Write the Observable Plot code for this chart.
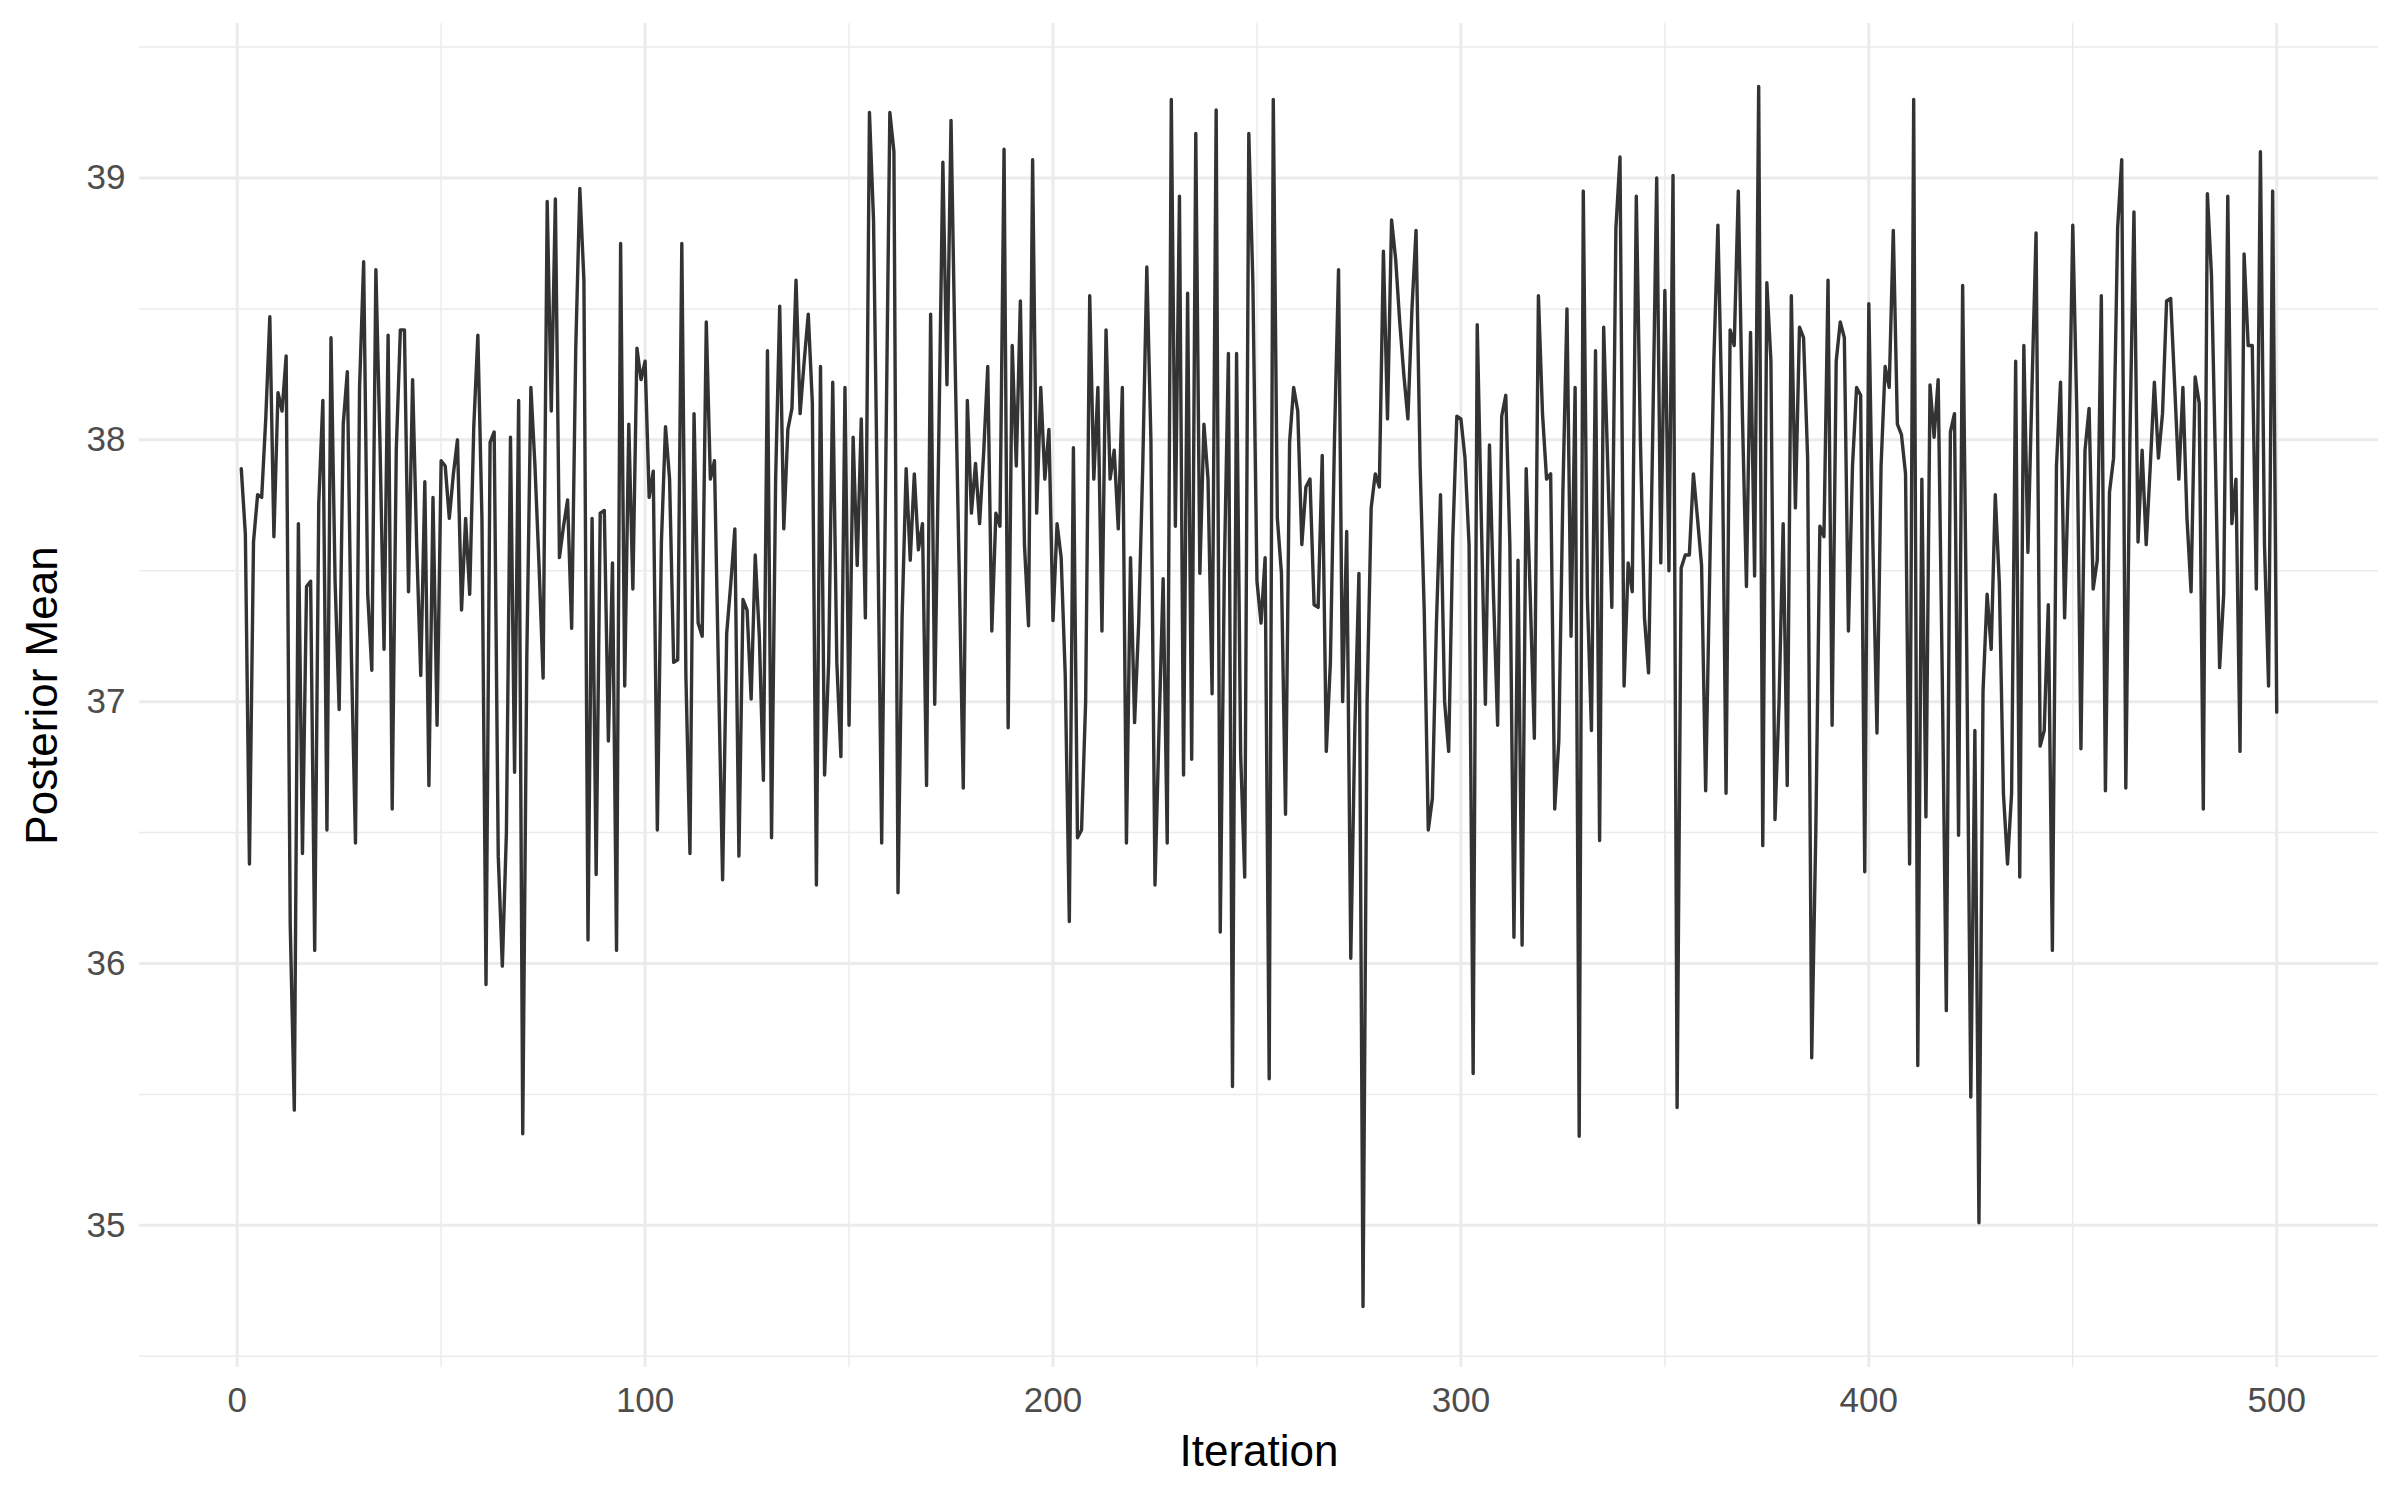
<!DOCTYPE html>
<html>
<head>
<meta charset="utf-8">
<script src="https://cdn.jsdelivr.net/npm/d3@7"></script>
<script src="https://cdn.jsdelivr.net/npm/@observablehq/plot@0.6"></script>
<style>
  html, body { margin: 0; padding: 0; background: #ffffff; }
  #chart { width: 2400px; height: 1500px; }
</style>
</head>
<body>
<div id="chart"></div>
<script>
// Posterior mean trace values, iterations 1..500
const posteriorMean = [
37.89,37.64,36.38,37.61,37.79,37.78,38.08,38.47,37.63,38.18,
38.11,38.32,36.15,35.44,37.68,36.42,37.44,37.46,36.05,37.76,
38.15,36.51,38.39,37.46,36.97,38.06,38.26,37.17,36.46,38.20,
38.68,37.41,37.12,38.65,37.99,37.20,38.40,36.59,37.96,38.42,
38.42,37.42,38.23,37.60,37.10,37.84,36.68,37.78,36.91,37.92,
37.90,37.70,37.87,38.00,37.35,37.70,37.41,38.05,38.40,37.70,
35.92,37.99,38.03,36.41,35.99,36.50,38.01,36.73,38.15,35.35,
37.17,38.20,37.90,37.52,37.09,38.91,38.11,38.92,37.55,37.67,
37.77,37.28,38.35,38.96,38.61,36.09,37.70,36.34,37.72,37.73,
36.85,37.53,36.05,38.75,37.06,38.06,37.43,38.35,38.23,38.30,
37.78,37.88,36.51,37.61,38.05,37.85,37.15,37.16,38.75,37.10,
36.42,38.10,37.30,37.25,38.45,37.85,37.92,37.10,36.32,37.26,
37.45,37.66,36.41,37.39,37.35,37.01,37.56,37.25,36.70,38.34,
36.48,37.85,38.51,37.66,38.04,38.12,38.61,38.10,38.30,38.48,
38.14,36.30,38.28,36.72,37.15,38.22,37.15,36.79,38.20,36.91,
38.01,37.52,38.08,37.32,39.25,38.84,37.70,36.46,37.90,39.25,
39.10,36.27,37.32,37.89,37.54,37.87,37.58,37.68,36.68,38.48,
36.99,38.00,39.06,38.21,39.22,38.30,37.50,36.67,38.15,37.72,
37.91,37.68,37.95,38.28,37.27,37.72,37.67,39.11,36.90,38.36,
37.90,38.53,37.60,37.29,39.07,37.72,38.20,37.85,38.04,37.31,
37.68,37.55,37.10,36.16,37.97,36.48,36.51,37.00,38.55,37.85,
38.20,37.27,38.42,37.85,37.96,37.66,38.20,36.46,37.55,36.92,
37.30,37.90,38.66,38.00,36.30,36.90,37.47,36.46,39.30,37.67,
38.93,36.72,38.56,36.78,39.17,37.49,38.06,37.85,37.03,39.26,
36.12,37.50,38.33,35.53,38.33,36.80,36.33,39.17,38.60,37.46,
37.30,37.55,35.56,39.30,37.70,37.49,36.57,37.99,38.20,38.11,
37.60,37.82,37.85,37.37,37.36,37.94,36.81,37.15,38.00,38.65,
37.00,37.65,36.02,36.90,37.49,34.69,37.00,37.74,37.87,37.82,
38.72,38.08,38.84,38.69,38.45,38.25,38.08,38.50,38.80,37.90,
37.35,36.51,36.63,37.30,37.79,37.00,36.81,37.62,38.09,38.08,
37.93,37.60,35.58,38.44,37.70,36.99,37.98,37.40,36.91,38.09,
38.17,37.60,36.10,37.54,36.07,37.89,37.40,36.86,38.55,38.10,
37.85,37.87,36.59,36.85,37.80,38.50,37.25,38.20,35.34,38.95,
37.40,36.89,38.34,36.47,38.43,37.90,37.36,38.81,39.08,37.06,
37.53,37.42,38.93,38.00,37.32,37.11,38.00,39.00,37.53,38.57,
37.50,39.01,35.45,37.51,37.56,37.56,37.87,37.70,37.52,36.66,
37.50,38.30,38.82,38.10,36.65,38.42,38.36,38.95,38.10,37.44,
38.41,37.48,39.35,36.45,38.60,38.30,36.55,37.00,37.68,36.68,
38.55,37.74,38.43,38.39,37.93,35.64,36.50,37.67,37.63,38.61,
36.91,38.30,38.45,38.39,37.27,37.90,38.20,38.17,36.35,38.52,
37.60,36.88,37.90,38.28,38.20,38.80,38.06,38.02,37.87,36.38,
39.30,35.61,37.85,36.56,38.21,38.01,38.23,37.10,35.82,38.03,
38.10,36.49,38.59,37.20,35.49,36.89,35.01,37.04,37.41,37.20,
37.79,37.45,36.65,36.38,36.65,38.30,36.33,38.36,37.57,38.20,
38.79,36.83,36.89,37.37,36.05,37.90,38.22,37.32,37.90,38.82,
38.10,36.82,37.96,38.12,37.43,37.54,38.55,36.66,37.80,37.93,
38.81,39.07,36.67,38.00,38.87,37.61,37.96,37.60,37.90,38.22,
37.93,38.10,38.53,38.54,38.20,37.85,38.20,37.70,37.42,38.24,
38.14,36.59,38.94,38.63,37.90,37.13,37.41,38.93,37.68,37.85,
36.81,38.71,38.36,38.36,37.43,39.10,37.60,37.06,38.95,36.96
];
const iterations = posteriorMean.map((_, i) => i + 1);

const xMajorTicks = [0, 100, 200, 300, 400, 500];
const xMinorTicks = [50, 150, 250, 350, 450];
const yMajorTicks = [35, 36, 37, 38, 39];
const yMinorTicks = [34.5, 35.5, 36.5, 37.5, 38.5, 39.5];

const xTitle = "Iteration";
const yTitle = "Posterior Mean";

const traceData = iterations.map((it, i) => ({iteration: it, value: posteriorMean[i]}));

const font = "'Liberation Sans', Arial, Helvetica, sans-serif";

const chart = Plot.plot({
  width: 2400,
  height: 1500,
  marginTop: 23,
  marginBottom: 133,
  marginLeft: 139,
  marginRight: 22,
  style: {fontFamily: font, background: "#ffffff"},
  x: {domain: [-23.95, 524.95]},
  y: {domain: [34.457, 39.59]},
  marks: [
    Plot.ruleY(yMinorTicks, {y: d => d, stroke: "#ebebeb", strokeWidth: 1.5}),
    Plot.ruleX(xMinorTicks, {x: d => d, stroke: "#ebebeb", strokeWidth: 1.5}),
    Plot.ruleY(yMajorTicks, {y: d => d, stroke: "#ebebeb", strokeWidth: 3}),
    Plot.ruleX(xMajorTicks, {x: d => d, stroke: "#ebebeb", strokeWidth: 3}),
    Plot.line(traceData, {x: "iteration", y: "value", stroke: "#333333", strokeWidth: 3.4, strokeLinejoin: "round"}),
    Plot.axisX(xMajorTicks, {tickSize: 0, tickPadding: 20, fontSize: 35, fill: "#4d4d4d", label: null, tickFormat: d => String(d)}),
    Plot.axisY(yMajorTicks, {tickSize: 0, tickPadding: 14, fontSize: 35, fill: "#4d4d4d", label: null, tickFormat: d => String(d)}),
    Plot.axisX([], {tickSize: 0, fontSize: 44, fill: "#000000", label: xTitle, labelAnchor: "center", labelArrow: "none", labelOffset: 98}),
    Plot.axisY([], {tickSize: 0, fontSize: 44, fill: "#000000", label: yTitle, labelAnchor: "center", labelArrow: "none", labelOffset: 114})
  ]
});
document.getElementById("chart").appendChild(chart);
</script>
</body>
</html>
